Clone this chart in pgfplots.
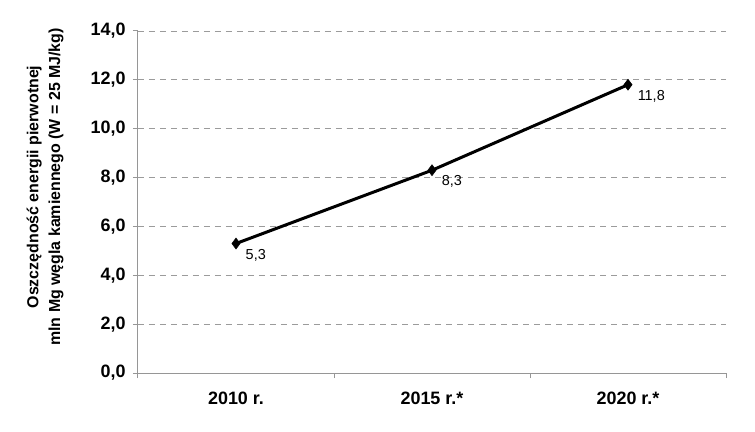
\documentclass[border=0pt]{standalone}
\usepackage{fontspec}
\setmainfont{Liberation Sans}
\usepackage{pgfplots}
\pgfplotsset{compat=1.18}
\definecolor{axgray}{RGB}{150,150,150}
\definecolor{gridgray}{RGB}{155,155,155}
\begin{document}
\begin{tikzpicture}
\begin{axis}[
  scale only axis,
  width=588bp, height=342bp,
  xmin=-0.5, xmax=2.5,
  ymin=0, ymax=14,
  axis x line*=bottom,
  axis y line*=left,
  axis line style={axgray, line width=1bp},
  xtick={-0.5,0.5,1.5,2.5},
  xticklabels={2010 r.,2015 r.*,2020 r.*,},
  x tick label as interval,
  ytick={0,2,4,6,8,10,12,14},
  yticklabels={{0,0},{2,0},{4,0},{6,0},{8,0},{10,0},{12,0},{14,0}},
  tick align=outside,
  major tick length=5bp,
  tick style={axgray, line width=1bp},
  ymajorgrids,
  major grid style={gridgray, dash pattern=on 6bp off 5bp, line width=0.9bp},
  tick label style={font=\fontsize{18}{21}\selectfont\bfseries, text=black},
  /pgf/number format/assume math mode=true,
  xticklabel style={yshift=-10bp},
  yticklabel style={xshift=-4bp},
  ylabel={Oszczędność energii pierwotnej\\mln Mg węgla kamiennego (W = 25 MJ/kg)},
  ylabel style={font=\fontsize{16}{22}\selectfont\bfseries, align=center,
    at={(axis description cs:-0.158,0.544)}, anchor=center, rotate=0},
  clip=false,
  nodes near coords={\pgfmathprintnumber[fixed,precision=1,use comma]{\pgfplotspointmeta}},
  every node near coord/.append style={font=\fontsize{14.5}{17}\selectfont, text=black, anchor=west, inner sep=0pt, xshift=9.5bp, yshift=-11.5bp},
]
\addplot[black, line width=3bp, mark=diamond*, mark size=5.5bp, mark options={solid, fill=black, line width=0.5bp}]
  coordinates {(0,5.3) (1,8.3) (2,11.8)};
\end{axis}
\pgfresetboundingbox
\path (current axis.south west) ++(-138bp,-59bp) rectangle ++(755bp,432bp);
\end{tikzpicture}
\end{document}
